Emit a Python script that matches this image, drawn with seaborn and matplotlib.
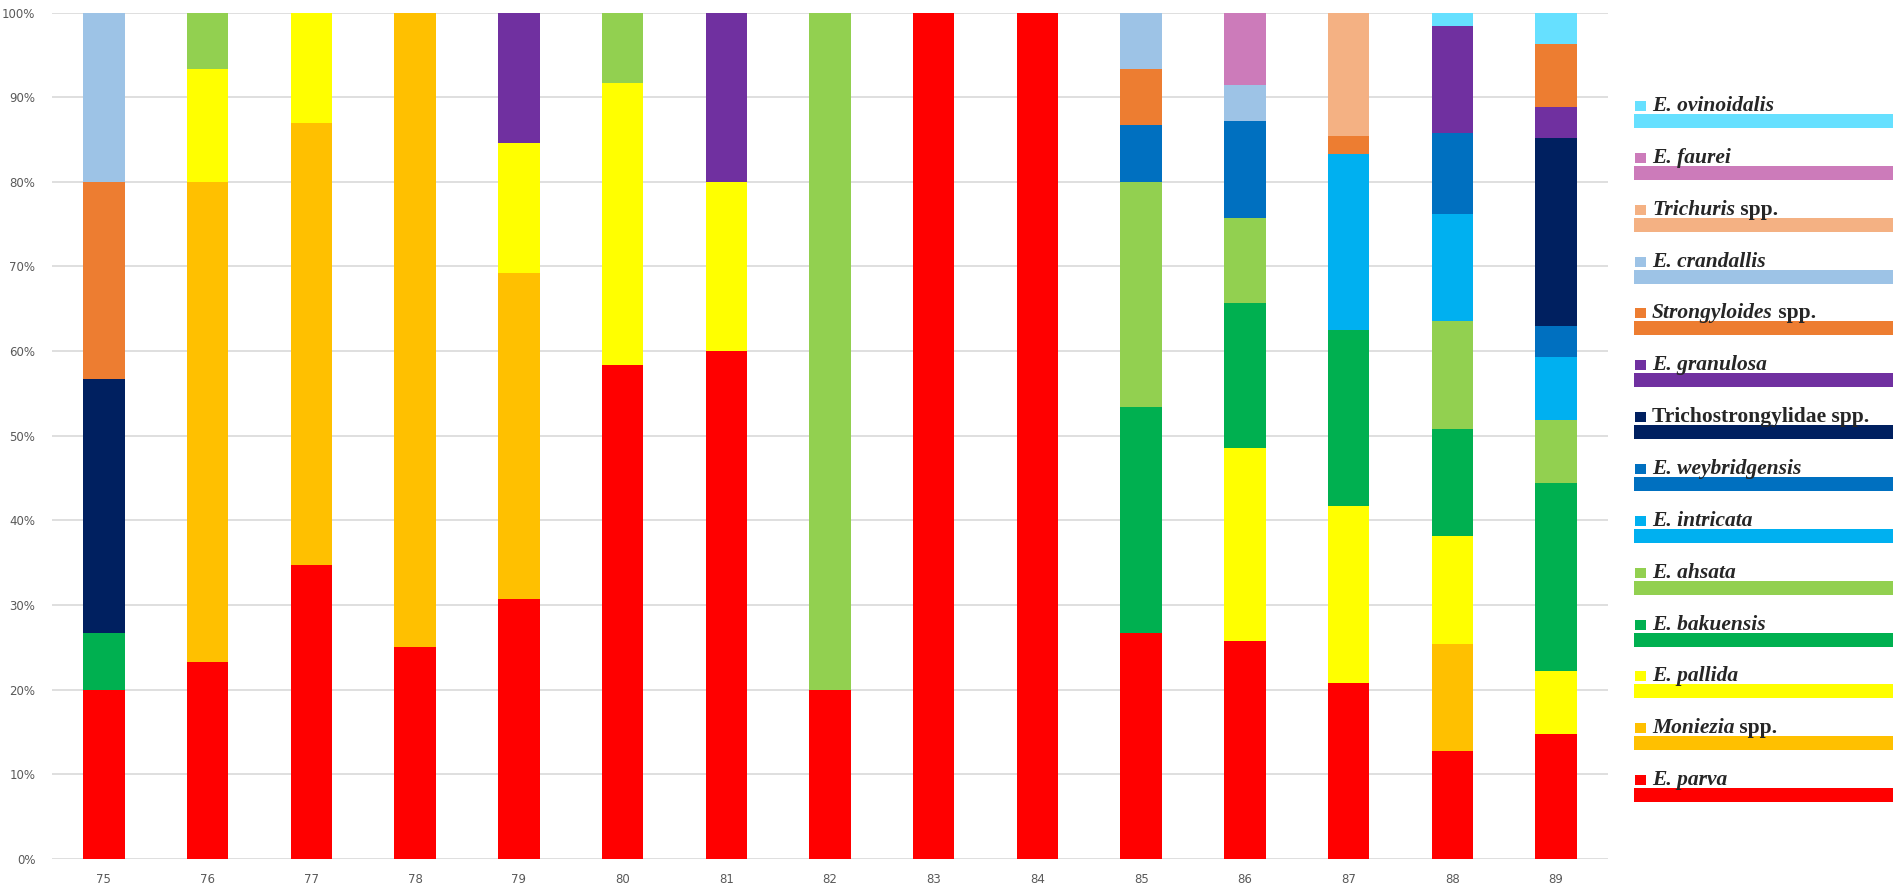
import seaborn as sns
import matplotlib.pyplot as plt
import pandas as pd
from matplotlib.patches import Rectangle

# Sample numbers on the x axis
samples = [75, 76, 77, 78, 79, 80, 81, 82, 83, 84, 85, 86, 87, 88, 89]

# Species, listed top to bottom as in the legend (last one sits at the bottom of each bar)
species = ["E. ovinoidalis", "E. faurei", "Trichuris spp.", "E. crandallis",
           "Strongyloides spp.", "E. granulosa", "Trichostrongylidae spp.",
           "E. weybridgensis", "E. intricata", "E. ahsata", "E. bakuensis",
           "E. pallida", "Moniezia spp.", "E. parva"]
colors = ["#66E0FF", "#CC7BBA", "#F4B183", "#9DC3E6", "#ED7D31", "#7030A0",
          "#002060", "#0070C0", "#00B0F0", "#92D050", "#00B050", "#FFFF00",
          "#FFC000", "#FF0000"]

# Share (%) of each species per sample
e_ovinoidalis = [0, 0, 0, 0, 0, 0, 0, 0, 0, 0, 0, 0, 0, 1.59, 3.70]
e_faurei = [0, 0, 0, 0, 0, 0, 0, 0, 0, 0, 0, 8.57, 0, 0, 0]
trichuris = [0, 0, 0, 0, 0, 0, 0, 0, 0, 0, 0, 0, 14.58, 0, 0]
e_crandallis = [20, 0, 0, 0, 0, 0, 0, 0, 0, 0, 6.67, 4.29, 0, 0, 0]
strongyloides = [23.33, 0, 0, 0, 0, 0, 0, 0, 0, 0, 6.67, 0, 2.08, 0, 7.41]
e_granulosa = [0, 0, 0, 0, 15.38, 0, 20, 0, 0, 0, 0, 0, 0, 12.70, 3.70]
trichostrongylidae = [30, 0, 0, 0, 0, 0, 0, 0, 0, 0, 0, 0, 0, 0, 22.22]
e_weybridgensis = [0, 0, 0, 0, 0, 0, 0, 0, 0, 0, 6.67, 11.43, 0, 9.52, 3.70]
e_intricata = [0, 0, 0, 0, 0, 0, 0, 0, 0, 0, 0, 0, 20.83, 12.70, 7.41]
e_ahsata = [0, 6.67, 0, 0, 0, 8.33, 0, 80, 0, 0, 26.67, 10.00, 0, 12.70, 7.41]
e_bakuensis = [6.67, 0, 0, 0, 0, 0, 0, 0, 0, 0, 26.67, 17.14, 20.83, 12.70, 22.22]
e_pallida = [0, 13.33, 13.04, 0, 15.38, 33.33, 20, 0, 0, 0, 0, 22.86, 20.83, 12.70, 7.41]
moniezia = [0, 56.67, 52.17, 75, 38.46, 0, 0, 0, 0, 0, 0, 0, 0, 12.70, 0]
e_parva = [20, 23.33, 34.78, 25, 30.77, 58.33, 60, 20, 100, 100, 26.67, 25.71, 20.83, 12.70, 14.81]

series = [e_ovinoidalis, e_faurei, trichuris, e_crandallis, strongyloides,
          e_granulosa, trichostrongylidae, e_weybridgensis, e_intricata,
          e_ahsata, e_bakuensis, e_pallida, moniezia, e_parva]

wide = pd.DataFrame(dict(zip(species, series)))
wide["sample"] = samples
df = wide.melt(id_vars="sample", var_name="species", value_name="pct")
df = df[df["pct"] > 0]

sns.set_style("white")

W, H = 1902, 888
fig = plt.figure(figsize=(W / 100, H / 100), dpi=100)

# plot area in pixels: left 52, right 1608, top 12.5, bottom 859
ax = fig.add_axes([52 / W, (H - 859) / H, (1608 - 52) / W, (859 - 12.5) / H])

# seaborn stacks hue levels in reverse order, so the last species lands at the bottom
sns.histplot(data=df, x="sample", weights="pct", hue="species",
             hue_order=species, palette=colors, multiple="stack",
             discrete=True, shrink=0.4, alpha=1, linewidth=0,
             legend=False, ax=ax)

ax.set_xlim(74.5, 89.5)
ax.set_ylim(0, 100)
ax.set_xticks(samples)
ax.set_xticklabels([str(s) for s in samples])
ax.set_yticks(range(0, 101, 10))
ax.set_yticklabels([f"{v}%" for v in range(0, 101, 10)])
ax.set_xlabel("")
ax.set_ylabel("")
ax.yaxis.grid(True, color="#D9D9D9", linewidth=1.2)
ax.set_axisbelow(True)
for s in ax.spines.values():
    s.set_visible(False)
ax.tick_params(axis="both", length=0, labelsize=8.5, labelcolor="#595959")
ax.tick_params(axis="y", pad=12)
ax.tick_params(axis="x", pad=10)

# Custom legend on the right: marker + label, then a long colour band under it
def fx(px):
    return px / W


def fy(py):
    return 1 - py / H


font = ["Liberation Serif", "DejaVu Serif"]
fsize = 15.5
for i, (name, col) in enumerate(zip(species, colors)):
    band_top = 114 + 51.85 * i
    base = band_top - 3
    fig.add_artist(Rectangle((fx(1634), fy(band_top + 14)), fx(1893) - fx(1634),
                             14 / H, transform=fig.transFigure,
                             facecolor=col, edgecolor="none"))
    fig.add_artist(Rectangle((fx(1635), fy(base)), 11 / W, 10 / H,
                             transform=fig.transFigure,
                             facecolor=col, edgecolor="none"))
    if name == "Trichostrongylidae spp.":
        fig.text(fx(1652), fy(base), name, fontsize=fsize, fontweight="bold",
                 family=font, va="baseline", ha="left")
    elif name.endswith(" spp."):
        t = fig.text(fx(1652), fy(base), name[:-5], fontsize=fsize,
                     fontweight="bold", fontstyle="italic", family=font,
                     va="baseline", ha="left")
        fig.add_artist(plt.Annotation(" spp.", xy=(1, 0), xycoords=t,
                                      va="bottom", ha="left", fontsize=fsize,
                                      fontweight="bold", family=font))
    else:
        fig.text(fx(1652), fy(base), name, fontsize=fsize, fontweight="bold",
                 fontstyle="italic", family=font, va="baseline", ha="left")

plt.savefig("out.png", dpi=100)
